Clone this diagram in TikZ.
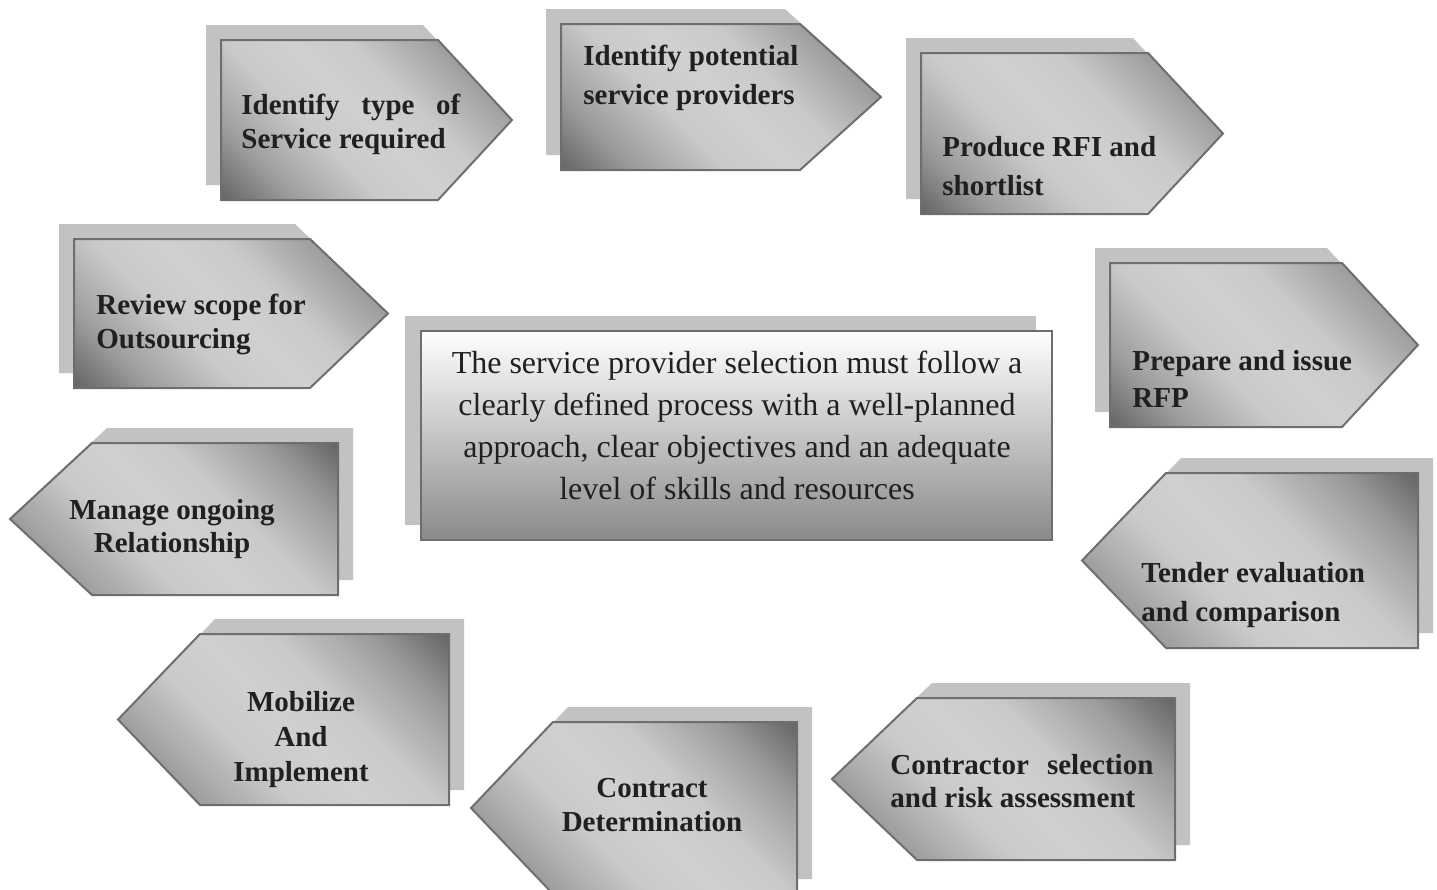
\documentclass[tikz,border=0pt]{standalone}
\usepackage{fontspec}
\setmainfont{Liberation Serif}
\usepackage{xcolor}
\definecolor{stdark}{HTML}{5C5C5C}
\definecolor{stmid}{HTML}{9C9C9C}
\definecolor{stlight}{HTML}{D0D0D0}
\definecolor{shgray}{HTML}{C2C2C2}
\definecolor{edge}{HTML}{6E6E6E}
\definecolor{ink}{HTML}{231F20}
\definecolor{boxlow}{HTML}{8A8A8A}
\pgfdeclareverticalshading{steel}{100bp}{color(0bp)=(stdark); color(13bp)=(stdark); color(26bp)=(stmid); color(40bp)=(stlight!97!black); color(50bp)=(stlight); color(60bp)=(stlight!97!black); color(74bp)=(stmid); color(87bp)=(stdark); color(100bp)=(stdark)}

\begin{document}
\begin{tikzpicture}[x=0.5pt,y=-0.5pt,
        sh/.style={fill=shgray},
        st/.style={draw=edge,line width=1pt,shade,shading=steel,shading angle=-45},
        t/.style={font=\fontsize{14.5}{#1}\selectfont\bfseries,text=ink,inner sep=0pt,align=left,anchor=north west},
        t/.default=17]
        \useasboundingbox (0,0) rectangle (1437,890);
        % steps pointing right: left/top/right/bottom/tip
        \foreach \l/\t/\r/\b/\p in {221/40/438/200/512,561/24/800/170/881,921/53/1148/214/1223,74/239/310/388/388,1110/263/1342/427/1418}{
          \fill[sh,shift={(-15,-15)}] (\l,\t) -- (\r,\t) -- (\p,{(\t+\b)/2}) -- (\r,\b) -- (\l,\b) -- cycle;
          \draw[st] (\l,\t) -- (\r,\t) -- (\p,{(\t+\b)/2}) -- (\r,\b) -- (\l,\b) -- cycle;
        }
        % steps pointing left: tip/slant/right/top/bottom
        \foreach \p/\s/\r/\t/\b in {10/92/338/443/595,1082/1166/1418/473/648,118/200/449/634/805,471/553/797/722/894,832/917/1175/698/860}{
          \fill[sh,shift={(15,-15)}] (\r,\t) -- (\s,\t) -- (\p,{(\t+\b)/2}) -- (\s,\b) -- (\r,\b) -- cycle;
          \draw[st] (\r,\t) -- (\s,\t) -- (\p,{(\t+\b)/2}) -- (\s,\b) -- (\r,\b) -- cycle;
        }
        % centre statement
        \fill[sh] (405,316) rectangle (1036,525);
        \draw[draw=edge,line width=1pt,top color=white,bottom color=boxlow] (421,331) rectangle (1052,540);
        \node[font=\fontsize{16}{21}\selectfont,text=ink,inner sep=0pt,align=center,anchor=north] (aim) at (737,351)
          {The service provider selection must follow a\\clearly defined process with a well-planned\\approach, clear objectives and an adequate\\level of skills and resources};
        % step labels
        \node[t] (type) at (241,94) {\makebox[109.5pt][s]{Identify type of}\\Service required};
        \node[t=19.5] (prov) at (583,45) {Identify potential\\service providers};
        \node[t=19.5] (rfi) at (942,136) {Produce RFI and\\shortlist};
        \node[t] (scope) at (96,294) {Review scope for\\Outsourcing};
        \node[t=18.5] (rfp) at (1132,350) {Prepare and issue\\RFP};
        \node[t=16.5,align=center,anchor=north] (manage) at (172,499) {Manage ongoing\\Relationship};
        \node[t=19.5] (tender) at (1141,562) {Tender evaluation\\and comparison};
        \node[t=17.5,align=center,anchor=north] (mobil) at (301,691) {Mobilize\\And\\Implement};
        \node[t,align=center,anchor=north] (contract) at (652,778) {Contract\\Determination};
        \node[t=16.5] (select) at (890,754) {\makebox[131.5pt][s]{Contractor selection}\\and risk assessment};
\end{tikzpicture}
\end{document}
